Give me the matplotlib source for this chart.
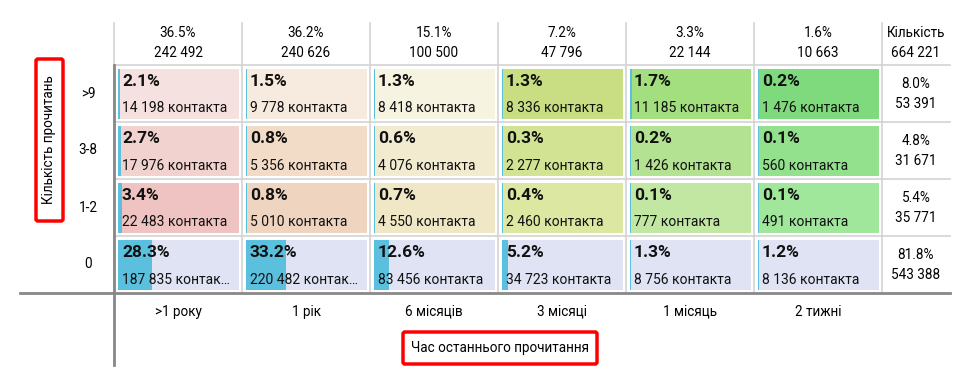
import matplotlib.pyplot as plt
from matplotlib.patches import Rectangle, FancyBboxPatch

plt.rcParams['font.family'] = ['Roboto', 'DejaVu Sans']

col_labels = ['>1 року', '1 рік', '6 місяців', '3 місяці', '1 місяць', '2 тижні']
row_labels = ['>9', '3-8', '1-2', '0']

counts = [
    [14198, 9778, 8418, 8336, 11185, 1476],
    [17976, 5356, 4076, 2277, 1426, 560],
    [22483, 5010, 4550, 2460, 777, 491],
    [187835, 220482, 83456, 34723, 8756, 8136],
]
pcts = [
    [2.1, 1.5, 1.3, 1.3, 1.7, 0.2],
    [2.7, 0.8, 0.6, 0.3, 0.2, 0.1],
    [3.4, 0.8, 0.7, 0.4, 0.1, 0.1],
    [28.3, 33.2, 12.6, 5.2, 1.3, 1.2],
]
col_pct = [36.5, 36.2, 15.1, 7.2, 3.3, 1.6]
col_total = [242492, 240626, 100500, 47796, 22144, 10663]
row_pct = [8.0, 4.8, 5.4, 81.8]
row_total = [53391, 31671, 35771, 543388]
grand_total = 664221

cell_colors = [
    ['#f5e1df', '#f7ebdf', '#f6f3e1', '#c9dd83', '#a3de7f', '#7fd97d'],
    ['#f1d2cf', '#f2dcc7', '#f2ebd0', '#d2e493', '#b2e292', '#93e18d'],
    ['#efc3c1', '#efd4c0', '#f0e7c6', '#dce7a2', '#c1e7a3', '#a0e79b'],
    ['#e0e3f4'] * 6,
]
bar_color = '#5bc0de'


def fmt(n):
    return f'{n:,}'.replace(',', ' ')


fig = plt.figure(figsize=(9.74, 3.80), dpi=100)
ax = fig.add_axes([0, 0, 1, 1])
ax.set_xlim(0, 974)
ax.set_ylim(380, 0)
ax.axis('off')

x0, cw = 114, 128
y0, rh = 65, 57
ncol, nrow = len(col_labels), len(row_labels)
x_tot = x0 + ncol * cw
x_end = 950
y_bot = y0 + nrow * rh
grid = '#d3d3d3'
hfs = 9.75

# thin grid lines
for j in range(ncol + 1):
    ax.plot([x0 + j * cw] * 2, [23, y_bot], color=grid, lw=1.2)
for i in range(nrow):
    ax.plot([x0, x_end], [y0 + i * rh] * 2, color=grid, lw=1.2)

# header
for j in range(ncol):
    cx = x0 + j * cw + cw / 2
    ax.text(cx, 33, f'{col_pct[j]:.1f}%', ha='center', va='center', fontsize=hfs)
    ax.text(cx, 53, fmt(col_total[j]), ha='center', va='center', fontsize=hfs)
ax.text((x_tot + x_end) / 2, 33, 'Кількість', ha='center', va='center', fontsize=hfs)
ax.text((x_tot + x_end) / 2, 53, fmt(grand_total), ha='center', va='center', fontsize=hfs)

# cells
pad = 3.5
for i in range(nrow):
    cy = y0 + i * rh
    for j in range(ncol):
        cx = x0 + j * cw
        w = cw - 2 * pad
        h = rh - 2 * pad
        ax.add_patch(Rectangle((cx + pad, cy + pad), w, h,
                               facecolor=cell_colors[i][j], edgecolor='none'))
        bw = max(w * pcts[i][j] / 100, 1.2)
        ax.add_patch(Rectangle((cx + pad, cy + pad), bw, h,
                               facecolor=bar_color, edgecolor='none'))
        ax.text(cx + 8, cy + 16.5, f'{pcts[i][j]:.1f}%', ha='left', va='center',
                fontsize=12.5, fontweight='bold', color='#111111')
        label = fmt(counts[i][j]) + ' контакта'
        if len(label) > 15:
            label = label[:14] + '…'
        ax.text(cx + 8, cy + 43.5, label, ha='left', va='center',
                fontsize=10, color='#111111')
    # row label and totals
    ax.text(88, cy + rh / 2, row_labels[i], ha='center', va='center', fontsize=hfs)
    ax.text((x_tot + x_end) / 2, cy + 19, f'{row_pct[i]:.1f}%',
            ha='center', va='center', fontsize=hfs)
    ax.text((x_tot + x_end) / 2, cy + 39, fmt(row_total[i]),
            ha='center', va='center', fontsize=hfs)

# column labels
for j in range(ncol):
    ax.text(x0 + j * cw + cw / 2, 312, col_labels[j], ha='center', va='center', fontsize=hfs)

# thick axis lines
ax.plot([20, x_end], [y_bot, y_bot], color='#888888', lw=2)
ax.plot([x0, x0], [y0, 365], color='#888888', lw=2)

# axis titles with red frames
ax.add_patch(FancyBboxPatch((36, 59), 27, 162, boxstyle='round,pad=0,rounding_size=2',
                            facecolor='none', edgecolor='#ff0000', lw=2.5))
ax.text(49.5, 140, 'Кількість прочитань', rotation=90, ha='center', va='center', fontsize=9.75)
ax.add_patch(FancyBboxPatch((403, 332), 194, 32, boxstyle='round,pad=0,rounding_size=2',
                            facecolor='none', edgecolor='#ff0000', lw=2.5))
ax.text(500, 348, 'Час останнього прочитання', ha='center', va='center', fontsize=9.75)

fig.savefig('out.png', dpi=100)
